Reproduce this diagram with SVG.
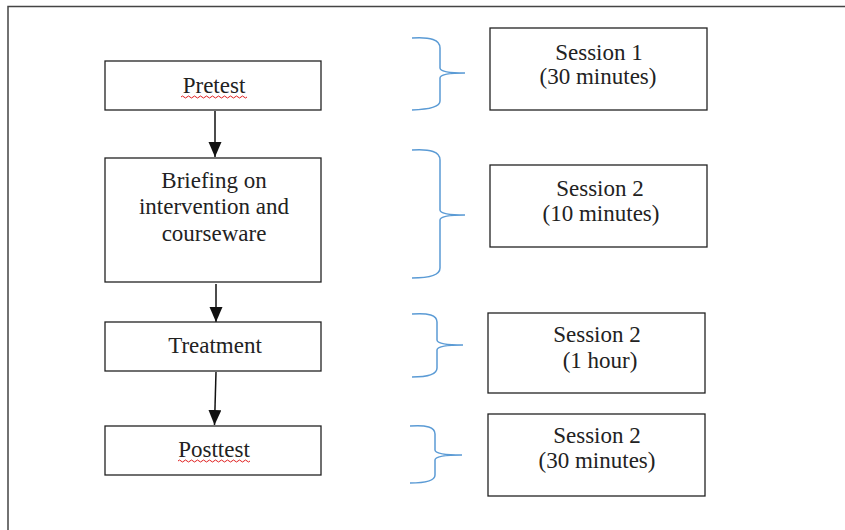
<svg xmlns="http://www.w3.org/2000/svg" width="845" height="530" viewBox="0 0 845 530">
<defs>
<style>
.box{fill:#fff;stroke:#222;stroke-width:1.3}
.t{font-family:"Liberation Serif","Times New Roman",serif;font-size:23px;fill:#222;text-anchor:middle}
.br{fill:none;stroke:#5b9bd5;stroke-width:1.5}
.conn{stroke:#111;stroke-width:1.5;fill:none}
.sq{fill:none;stroke:#e02020;stroke-width:1}
</style>
<marker id="ah" markerWidth="16" markerHeight="14" refX="15" refY="6.5" orient="auto" markerUnits="userSpaceOnUse">
<path d="M0,0 L15,6.5 L0,13 Z" fill="#111"/>
</marker>
</defs>
<rect width="845" height="530" fill="#fff"/>
<path d="M8,530 V6.5 H845" fill="none" stroke="#444" stroke-width="1.5"/>
<g id="connectors">
<line class="conn" x1="215" y1="111" x2="215" y2="157" marker-end="url(#ah)"/>
<line class="conn" x1="216" y1="284" x2="216" y2="322" marker-end="url(#ah)"/>
<line class="conn" x1="216" y1="372" x2="214.5" y2="425" marker-end="url(#ah)"/>
</g>
<g id="pretest">
<rect class="box" x="105" y="61" width="216" height="49"/>
<text class="t" x="214" y="93">Pretest</text>
<path class="sq" d="M181,97 q1.5,-2 3,0 t3,0 t3,0 t3,0 t3,0 t3,0 t3,0 t3,0 t3,0 t3,0 t3,0 t3,0 t3,0 t3,0 t3,0 t3,0 t3,0 t3,0 t3,0 t3,0 t3,0 t3,0"/>
</g>
<g id="briefing">
<rect class="box" x="105" y="158" width="216" height="124"/>
<text class="t" x="214" y="188">Briefing on</text>
<text class="t" x="214" y="214">intervention and</text>
<text class="t" x="214" y="241">courseware</text>
</g>
<g id="treatment">
<rect class="box" x="105" y="322" width="216" height="49"/>
<text class="t" x="215" y="353">Treatment</text>
</g>
<g id="posttest">
<rect class="box" x="105" y="426" width="216" height="49"/>
<text class="t" x="214" y="457">Posttest</text>
<path class="sq" d="M178,461 q1.5,-2 3,0 t3,0 t3,0 t3,0 t3,0 t3,0 t3,0 t3,0 t3,0 t3,0 t3,0 t3,0 t3,0 t3,0 t3,0 t3,0 t3,0 t3,0 t3,0 t3,0 t3,0 t3,0 t3,0 t3,0"/>
</g>
<g id="brace1">
<path class="br" d="M412,38 Q440,36 440,48 V68 Q440,73 465,73 Q440,73 440,78 V101 Q440,109 412,110"/>
</g>
<g id="brace2">
<path class="br" d="M412,150 Q440,148 440,160 V210 Q440,215 465,215 Q440,215 440,220 V268 Q440,278 412,278"/>
</g>
<g id="brace3">
<path class="br" d="M412,314 Q437,312 437,322 V340 Q437,345 463,345 Q437,345 437,350 V368 Q437,377 412,377"/>
</g>
<g id="brace4">
<path class="br" d="M410,426 Q435,424 435,434 V450 Q435,455 462,455 Q435,455 435,460 V475 Q435,483 410,483"/>
</g>
<g id="session1">
<rect class="box" x="490" y="28" width="217" height="82"/>
<text class="t" x="599" y="60">Session 1</text>
<text class="t" x="598" y="84">(30 minutes)</text>
</g>
<g id="session2a">
<rect class="box" x="490" y="165" width="217" height="82"/>
<text class="t" x="600" y="196">Session 2</text>
<text class="t" x="601" y="221">(10 minutes)</text>
</g>
<g id="session2b">
<rect class="box" x="488" y="313" width="217" height="80"/>
<text class="t" x="597" y="342">Session 2</text>
<text class="t" x="600" y="368">(1 hour)</text>
</g>
<g id="session2c">
<rect class="box" x="488" y="414" width="217" height="82"/>
<text class="t" x="597" y="443">Session 2</text>
<text class="t" x="597" y="468">(30 minutes)</text>
</g>
</svg>
